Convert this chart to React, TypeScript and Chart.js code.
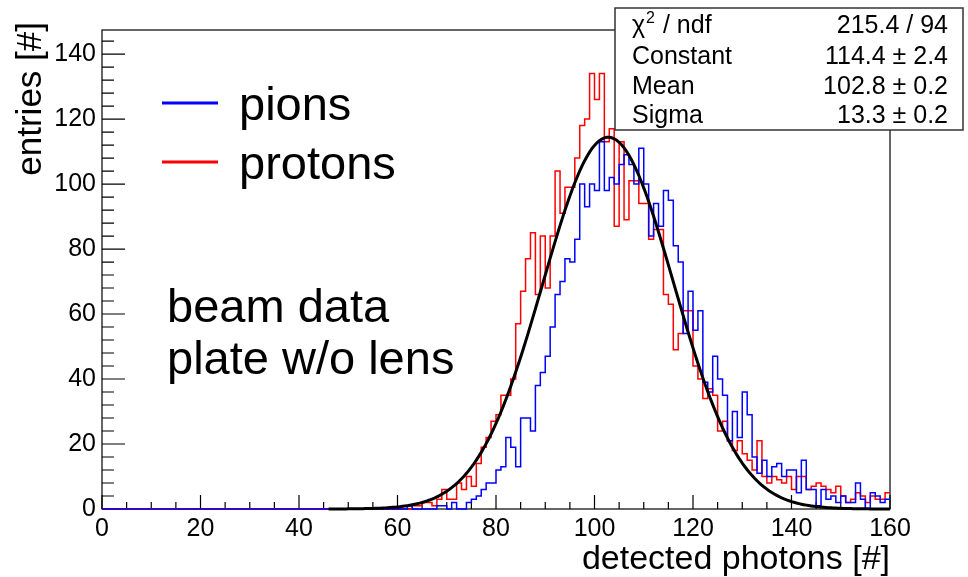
import { useEffect, useRef } from "react";
import { Chart, registerables } from "chart.js";

Chart.register(...registerables);

// Histogram binning: 160 bins of width 1 photon, from 0 to 160
const binLow = 0;
const binWidth = 1;
const xMin = 0;
const xMax = 160;
const yMax = 147.4;
const xLabelStep = 20;
const yLabelStep = 20;

// Entries per bin (bins 0..159), pion beam
const pionCounts = [
  0, 0, 0, 0, 0, 0, 0, 0, 0, 0, 0, 0, 0, 0, 0, 0, 0, 0, 0, 0,
  0, 0, 0, 0, 0, 0, 0, 0, 0, 0, 0, 0, 0, 0, 0, 0, 0, 0, 0, 0,
  0, 0, 0, 0, 0, 0, 0, 0, 0, 0, 0, 0, 0, 0, 0, 0, 0, 0, 0, 0,
  0, 0, 1, 0, 0, 0, 0, 0, 1, 1, 0, 2, 0, 0, 2, 3, 4, 6, 8, 8,
  12, 13, 22, 19, 13, 28, 28, 24, 38, 42, 47, 56, 66, 70, 77, 76, 83, 100, 93, 100,
  98, 113, 98, 102, 100, 106, 109, 106, 100, 111, 100, 84, 94, 87, 98, 95, 81, 76, 54, 67,
  55, 61, 39, 36, 47, 40, 35, 21, 30, 22, 36, 29, 16, 11, 15, 10, 13, 14, 10, 12,
  12, 5, 15, 6, 6, 1, 6, 3, 4, 2, 4, 2, 2, 8, 3, 0, 5, 4, 2, 3,
];

// Entries per bin (bins 0..159), proton beam
const protonCounts = [
  0, 0, 0, 0, 0, 0, 0, 0, 0, 0, 0, 0, 0, 0, 0, 0, 0, 0, 0, 0,
  0, 0, 0, 0, 0, 0, 0, 0, 0, 0, 0, 0, 0, 0, 0, 0, 0, 0, 0, 0,
  0, 0, 0, 0, 0, 0, 0, 0, 0, 0, 0, 0, 0, 0, 0, 0, 0, 0, 0, 0,
  0, 1, 0, 1, 1, 2, 2, 1, 3, 6, 3, 3, 8, 6, 10, 7, 14, 19, 22, 27,
  29, 35, 35, 40, 57, 67, 77, 85, 66, 84, 68, 84, 104, 91, 99, 99, 108, 118, 120, 134,
  126, 134, 113, 117, 87, 113, 89, 101, 101, 94, 94, 83, 86, 86, 66, 63, 49, 54, 61, 61,
  44, 40, 34, 37, 35, 24, 27, 21, 18, 21, 17, 15, 12, 21, 10, 8, 10, 9, 8, 10,
  6, 10, 10, 6, 7, 8, 7, 6, 5, 7, 4, 2, 3, 5, 4, 2, 4, 3, 3, 5,
];

// Gaussian fit result
const fitConstant = 114.4;
const fitMean = 102.8;
const fitSigma = 13.3;
const fitFrom = 46;
const fitTo = 160;

const statsNames = ["χ2 / ndf", "Constant", "Mean", "Sigma"];
const statsValues = ["215.4 / 94", "114.4 ± 2.4", "102.8 ± 0.2", "13.3 ± 0.2"];

const legendNames = ["pions", "protons"];
const legendColors = ["#0000ff", "#ff0000"];
const noteLines = ["beam data", "plate w/o lens"];

const xTitle = "detected photons [#]";
const yTitle = "entries [#]";

const FONT = "'Liberation Sans', Arial, Helvetica, sans-serif";

function histPoints(counts: number[]) {
  const pts = counts.map((c, i) => ({ x: binLow + i * binWidth, y: c }));
  pts.push({ x: binLow + counts.length * binWidth, y: counts[counts.length - 1] });
  return pts;
}

function gaussPoints() {
  const pts: { x: number; y: number }[] = [];
  const n = 228;
  for (let i = 0; i <= n; i++) {
    const x = fitFrom + ((fitTo - fitFrom) * i) / n;
    const z = (x - fitMean) / fitSigma;
    pts.push({ x, y: fitConstant * Math.exp(-0.5 * z * z) });
  }
  return pts;
}

// Frame with inward tick marks, ROOT style
const framePlugin = {
  id: "frameTicks",
  beforeDatasetsDraw(chart: any) {
    const { ctx, chartArea: a, scales } = chart;
    const xs = scales.x;
    const ys = scales.y;
    ctx.save();
    ctx.strokeStyle = "#000";
    ctx.lineWidth = 1.2;
    ctx.strokeRect(a.left, a.top, a.right - a.left, a.bottom - a.top);
    ctx.beginPath();
    for (let v = xMin; v <= xMax + 1e-9; v += 5) {
      const px = xs.getPixelForValue(v);
      const len = v % xLabelStep === 0 ? 14 : 7;
      ctx.moveTo(px, a.bottom);
      ctx.lineTo(px, a.bottom - len);
    }
    for (let v = 0; v <= yMax; v += 4) {
      const py = ys.getPixelForValue(v);
      const len = v % yLabelStep === 0 ? 23 : 12;
      ctx.moveTo(a.left, py);
      ctx.lineTo(a.left + len, py);
    }
    ctx.stroke();
    ctx.restore();
  },
  afterDraw(chart: any) {
    const { ctx, chartArea: a } = chart;
    ctx.save();
    ctx.fillStyle = "#000";

    // axis titles
    ctx.font = `34px ${FONT}`;
    ctx.textAlign = "right";
    ctx.textBaseline = "alphabetic";
    ctx.fillText(xTitle, a.right, 569);
    ctx.save();
    ctx.font = `35px ${FONT}`;
    ctx.translate(41, 22);
    ctx.rotate(-Math.PI / 2);
    ctx.fillText(yTitle, 0, 0);
    ctx.restore();

    // legend
    ctx.textAlign = "left";
    ctx.font = `47px ${FONT}`;
    const legendY = [103, 162];
    legendNames.forEach((name, i) => {
      ctx.strokeStyle = legendColors[i];
      ctx.lineWidth = 3;
      ctx.beginPath();
      ctx.moveTo(162, legendY[i]);
      ctx.lineTo(218, legendY[i]);
      ctx.stroke();
      ctx.fillStyle = "#000";
      ctx.fillText(name, 239, legendY[i] + 17);
    });

    // note
    const noteY = [322, 374];
    noteLines.forEach((t, i) => ctx.fillText(t, 167, noteY[i]));

    // fit statistics box
    const bx = 615;
    const by = 8;
    const bw = 348;
    const bh = 122;
    ctx.fillStyle = "#fff";
    ctx.fillRect(bx, by, bw, bh);
    ctx.strokeStyle = "#333";
    ctx.lineWidth = 1.5;
    ctx.strokeRect(bx, by, bw, bh);
    ctx.fillStyle = "#000";
    const rowY = [33, 64, 94, 123];
    ctx.font = `25px ${FONT}`;
    statsNames.forEach((name, i) => {
      ctx.textAlign = "left";
      if (name.startsWith("χ2")) {
        ctx.font = `25px ${FONT}`;
        ctx.fillText("χ", 632, rowY[i]);
        const w = ctx.measureText("χ").width;
        ctx.font = `16px ${FONT}`;
        ctx.fillText("2", 632 + w + 1, rowY[i] - 10);
        const w2 = ctx.measureText("2").width;
        ctx.font = `25px ${FONT}`;
        ctx.fillText(name.slice(2), 632 + w + w2 + 2, rowY[i]);
      } else {
        ctx.fillText(name, 632, rowY[i]);
      }
      ctx.textAlign = "right";
      ctx.fillText(statsValues[i], 948, rowY[i]);
    });
    ctx.restore();
  },
};

export default function App() {
  const ref = useRef<HTMLCanvasElement>(null);

  useEffect(() => {
    const canvas = ref.current;
    if (!canvas) return;
    const chart = new Chart(canvas, {
      type: "line",
      data: {
        datasets: [
          {
            label: "gaus fit",
            data: gaussPoints(),
            borderColor: "#000",
            borderWidth: 3,
            pointRadius: 0,
            tension: 0,
            fill: false,
            clip: 6,
          },
          {
            label: legendNames[0],
            data: histPoints(pionCounts),
            borderColor: legendColors[0],
            borderWidth: 1.5,
            pointRadius: 0,
            stepped: "before",
            fill: false,
            clip: 6,
          },
          {
            label: legendNames[1],
            data: histPoints(protonCounts),
            borderColor: legendColors[1],
            borderWidth: 1.5,
            pointRadius: 0,
            stepped: "before",
            fill: false,
            clip: 6,
          },
        ],
      },
      options: {
        responsive: false,
        devicePixelRatio: 1,
        animation: false,
        parsing: true,
        layout: { padding: { left: 0, top: 30, right: 78, bottom: 0 } },
        plugins: {
          legend: { display: false },
          tooltip: { enabled: false },
        },
        scales: {
          x: {
            type: "linear",
            min: xMin,
            max: xMax,
            grid: { display: false, drawTicks: false },
            border: { display: false },
            ticks: {
              stepSize: xLabelStep,
              autoSkip: false,
              maxRotation: 0,
              includeBounds: false,
              padding: 5,
              color: "#000",
              font: { family: FONT, size: 25 },
            },
            afterFit: (s: any) => {
              s.height = 68;
            },
          },
          y: {
            type: "linear",
            min: 0,
            max: yMax,
            grid: { display: false, drawTicks: false },
            border: { display: false },
            ticks: {
              stepSize: yLabelStep,
              includeBounds: false,
              padding: 6,
              color: "#000",
              font: { family: FONT, size: 25 },
            },
            afterFit: (s: any) => {
              s.width = 102;
            },
          },
        },
      },
      plugins: [framePlugin],
    } as any);
    return () => chart.destroy();
  }, []);

  return (
    <div style={{ position: "fixed", left: 0, top: 0, width: 968, height: 577, background: "#fff" }}>
      <canvas ref={ref} width={968} height={577} style={{ display: "block" }} />
    </div>
  );
}
